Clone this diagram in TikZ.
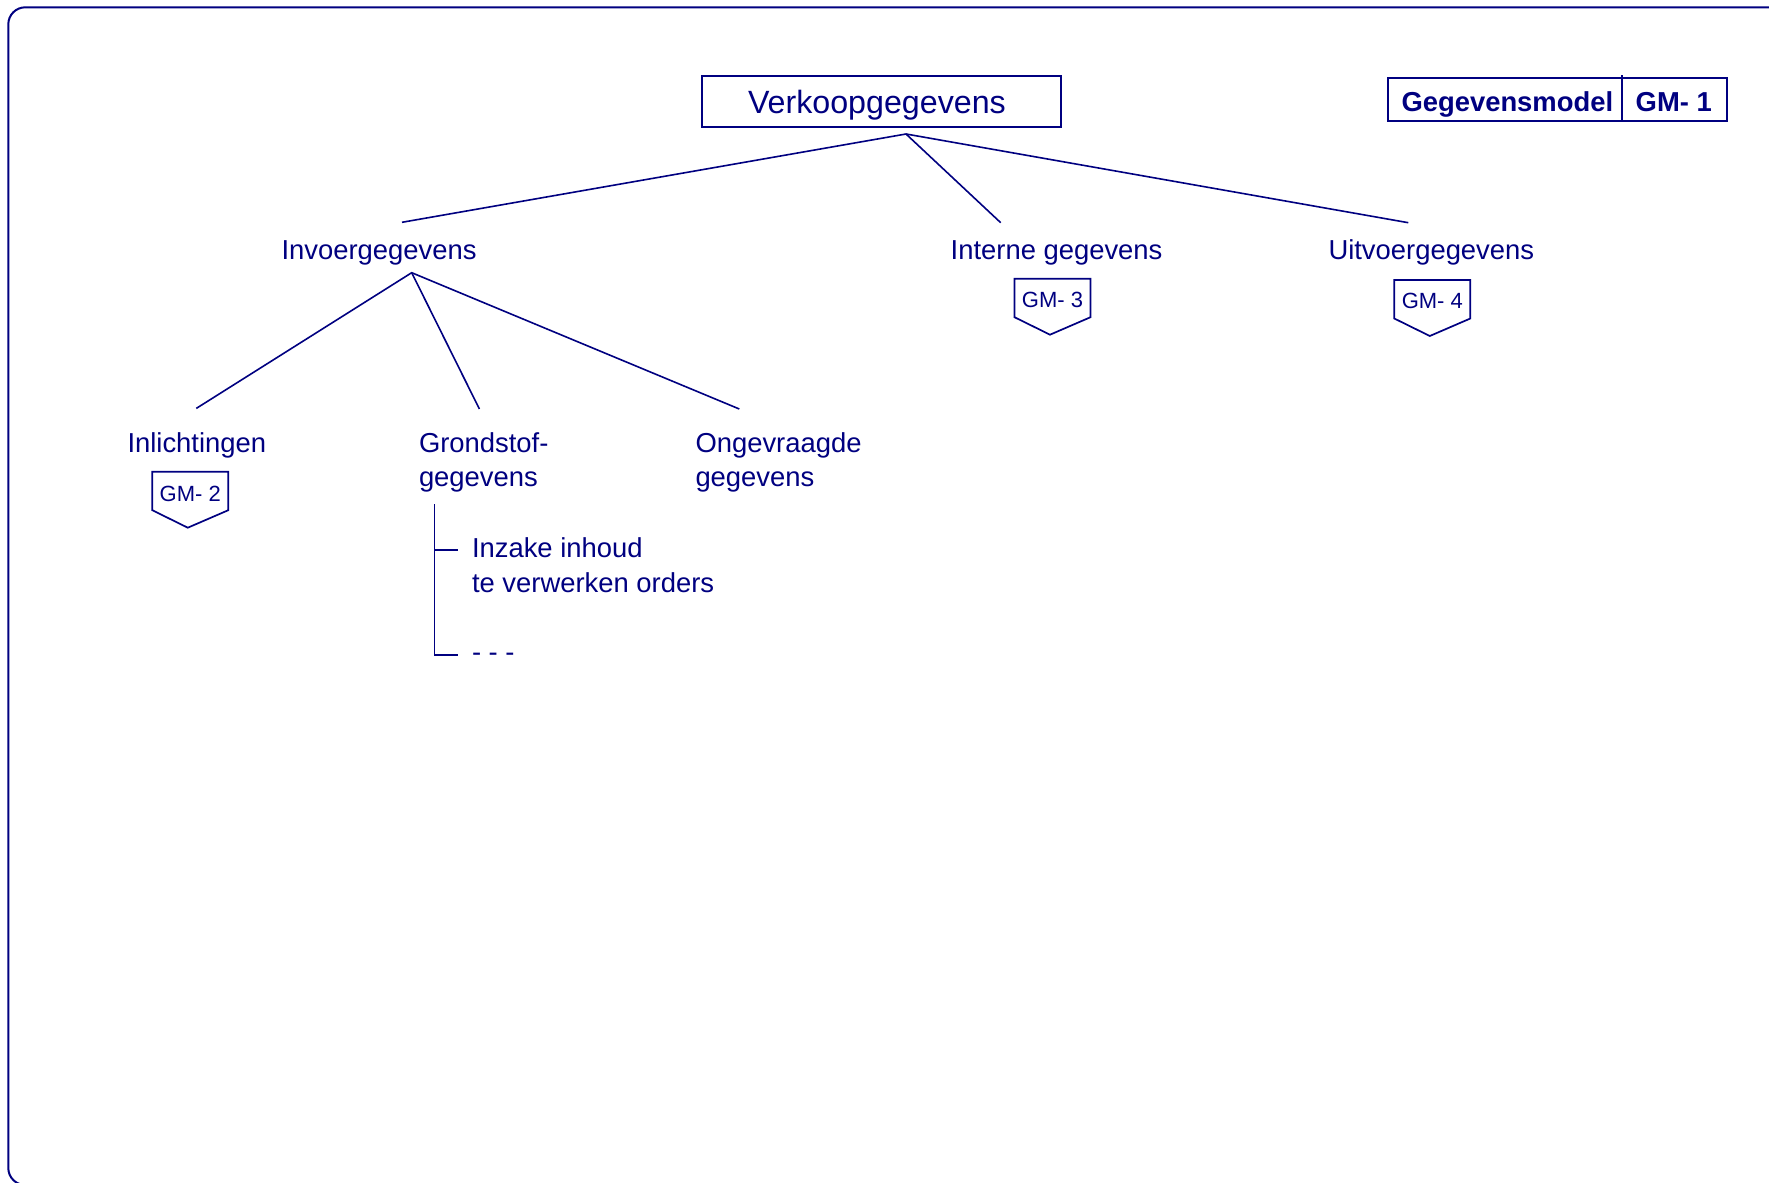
\documentclass[tikz,border=0pt]{standalone}
\usepackage{fontspec}
\setmainfont{Liberation Sans}
\definecolor{navy}{RGB}{0,0,128}
\begin{document}
\begin{tikzpicture}[x=0.5pt,y=-0.5pt,
  every node/.style={inner sep=0pt, outer sep=0pt, text=navy, anchor=base west},
  lbl/.style={font=\fontsize{13.7}{16}\selectfont},
  bigl/.style={font=\fontsize{16.1}{19}\selectfont},
  boldl/.style={font=\fontsize{13.7}{16}\selectfont\bfseries},
  tagtxt/.style={font=\fontsize{11}{13}\selectfont, anchor=base},
  conn/.style={draw=navy, line width=0.8pt},
  boxline/.style={draw=navy, line width=0.85pt},
  gmtag/.pic={\draw[boxline] (-38,0) -- (38,0) -- (38,38.5) -- (-2.5,56) -- (-38,38.5) -- cycle;}
]
\useasboundingbox (0,0) rectangle (1769,1183);
\clip (0,0) rectangle (1769,1183);
% frame
\draw[draw=navy, line width=1pt, rounded corners=8.5pt] (8.3,7.3) rectangle (1820,1185);

% title box
\draw[boxline] (702.3,75.7) rectangle (1061,126.7);
\node[bigl] (verk) at (748,113.3) {Verkoopgegevens};

% legend box
\draw[boxline] (1387.7,77.7) rectangle (1726.7,121);
\draw[boxline] (1622.3,75) -- (1622.3,121);
\node[boldl] (gm) at (1401.5,112) {Gegevensmodel};
\node[boldl] (gm1) at (1635.7,112) {GM- 1};

% level 1
\coordinate (top) at (906,134);
\coordinate (invE) at (402,222.3);
\coordinate (intE) at (1000.7,222.7);
\coordinate (uitE) at (1408.3,222.7);
\draw[conn] (invE) -- (top) -- (uitE);
\draw[conn] (top) -- (intE);

\node[lbl] (invoer) at (281.5,259.3) {Invoergegevens};
\node[lbl] (intern) at (950.7,259.3) {Interne gegevens};
\node[lbl] (uitvoer) at (1328.5,259.3) {Uitvoergegevens};

\pic at (1052.5,278.7) {gmtag};
\node[tagtxt] (gm3) at (1052.5,307.7) {GM- 3};
\pic at (1432.3,280) {gmtag};
\node[tagtxt] (gm4) at (1432.3,308.5) {GM- 4};

% level 2
\coordinate (inv) at (411.7,272.7);
\coordinate (inlE) at (196.3,408.4);
\coordinate (groE) at (479.4,409);
\coordinate (ongE) at (739.3,409);
\draw[conn] (inlE) -- (inv) -- (ongE);
\draw[conn] (inv) -- (groE);

\node[lbl] (inl) at (127.5,452.3) {Inlichtingen};
\pic at (190.3,471.7) {gmtag};
\node[tagtxt] (gm2) at (190.3,501.2) {GM- 2};

\node[lbl] (gro1) at (419,452.3) {Grondstof-};
\node[lbl] (gro2) at (419,486.5) {gegevens};
\node[lbl] (ong1) at (695.5,452.3) {Ongevraagde};
\node[lbl] (ong2) at (695.5,486.5) {gegevens};

% sub list
\coordinate (brT) at (434.3,504);
\coordinate (brM) at (434.3,550);
\coordinate (brB) at (434.3,655);
\coordinate (brMe) at (458.3,550);
\coordinate (brBe) at (458.3,655);
\draw[conn] (brT) -- (brB) -- (brBe);
\draw[conn] (brM) -- (brMe);
\node[lbl] (inz1) at (472,557.5) {Inzake inhoud};
\node[lbl] (inz2) at (472,592) {te verwerken orders};
\node[lbl] (dots) at (472,661.5) {- - -};
\end{tikzpicture}
\end{document}
